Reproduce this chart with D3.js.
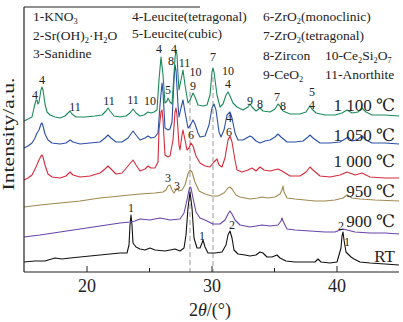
<!DOCTYPE html>
<html>
<head>
<meta charset="utf-8">
<script src="https://cdn.jsdelivr.net/npm/d3@7"></script>
<style>
  body { margin: 0; background: #fff; }
  svg { display: block; }
</style>
</head>
<body>
<svg id="chart" width="403" height="322"></svg>
<script>
// XRD patterns, [2theta, intensity (a.u.)]
const rtData = [[15.00,10],[15.88,11],[16.68,11],[17.48,14],[18.04,13],[18.68,14],[19.48,15],[20.28,16],[21.08,17],[21.88,18],[22.68,19],[23.24,19],[23.40,27],[23.48,47],[23.56,57],[23.64,47],[23.72,29],[23.96,25],[24.28,23],[24.68,22],[25.08,24],[25.48,22],[26.28,21],[27.08,23],[27.48,21],[27.80,24],[27.96,37],[28.12,64],[28.28,80],[28.44,64],[28.60,34],[28.84,24],[29.08,24],[29.24,29],[29.32,32],[29.48,25],[29.72,19],[30.28,19],[30.84,20],[31.16,27],[31.32,37],[31.48,41],[31.64,34],[31.80,22],[32.12,18],[32.68,17],[33.08,16],[33.56,17],[33.88,20],[34.12,19],[34.44,15],[34.84,15],[35.24,17],[35.48,14],[35.96,11],[36.68,10],[37.48,10],[38.28,10],[38.52,13],[38.76,10],[39.48,9],[40.04,10],[40.36,24],[40.44,36],[40.52,40],[40.60,32],[40.76,20],[40.92,18],[41.16,15],[41.40,13],[41.88,10],[42.68,9],[43.88,8],[45.00,7]];
const t900Data = [[15.00,35],[16.28,37],[17.88,40],[19.48,43],[21.08,46],[22.68,49],[23.48,50],[23.88,51],[24.28,53],[25.08,52],[25.88,54],[26.68,52],[27.48,53],[27.80,59],[28.04,72],[28.20,82],[28.28,85],[28.36,84],[28.52,74],[28.76,60],[29.08,54],[29.48,52],[30.12,48],[30.68,48],[31.08,52],[31.32,58],[31.48,61],[31.64,58],[31.88,52],[32.28,47],[33.08,45],[33.56,46],[34.04,47],[34.68,46],[35.32,47],[35.56,51],[35.64,54],[35.72,51],[36.04,43],[36.68,42],[37.88,41],[39.08,40],[39.88,40],[40.28,42],[40.52,43],[40.84,42],[41.48,40],[42.68,39],[43.88,39],[45.00,38]];
const t950Data = [[15.00,65],[16.28,67],[17.88,69],[19.48,71],[21.08,74],[22.68,76],[24.28,78],[25.48,79],[26.12,80],[26.36,82],[26.52,86],[26.68,87],[26.84,82],[27.00,79],[27.16,82],[27.24,84],[27.40,81],[27.64,82],[27.88,87],[28.12,98],[28.28,102],[28.44,100],[28.68,90],[29.00,81],[29.48,78],[30.04,76],[30.52,76],[31.00,79],[31.32,84],[31.48,85],[31.64,83],[31.96,77],[32.28,75],[33.08,73],[33.72,74],[34.04,75],[34.52,74],[35.08,75],[35.48,78],[35.64,82],[35.72,86],[35.80,80],[36.04,74],[36.68,73],[37.48,72],[38.28,71],[39.08,71],[39.88,72],[40.52,74],[40.84,77],[41.24,74],[41.88,73],[43.08,72],[45.00,71]];
const t1000Data = [[15.00,92],[15.32,94],[15.64,97],[15.96,105],[16.20,112],[16.36,116],[16.44,117],[16.52,115],[16.68,107],[16.92,98],[17.24,95],[17.88,94],[18.36,96],[18.68,100],[18.92,97],[19.48,95],[20.28,96],[21.08,99],[21.48,103],[21.72,106],[21.96,103],[22.36,98],[22.84,99],[23.32,106],[23.72,112],[23.96,107],[24.28,101],[24.68,103],[24.92,106],[25.16,104],[25.48,104],[25.72,110],[25.80,142],[25.96,160],[26.04,162],[26.12,152],[26.28,117],[26.52,115],[26.68,116],[26.92,132],[27.08,160],[27.16,164],[27.24,157],[27.40,127],[27.48,122],[27.64,137],[27.72,142],[27.88,132],[28.04,122],[28.20,124],[28.36,129],[28.52,126],[28.76,116],[29.08,109],[29.48,106],[29.88,105],[30.20,110],[30.44,113],[30.60,107],[30.84,105],[31.08,114],[31.32,132],[31.48,136],[31.64,130],[31.88,112],[32.04,102],[32.44,100],[32.92,102],[33.24,104],[33.56,101],[33.88,105],[34.20,102],[34.68,101],[35.32,103],[35.64,101],[36.28,96],[37.08,96],[37.56,100],[37.88,105],[38.12,102],[38.68,96],[39.48,95],[40.28,97],[40.84,100],[41.48,97],[42.04,99],[42.68,95],[43.88,94],[45.00,94]];
const t1050Data = [[15.00,124],[15.32,126],[15.64,129],[15.88,134],[16.04,139],[16.20,142],[16.36,148],[16.44,149],[16.52,146],[16.68,138],[16.92,132],[17.24,129],[17.88,128],[18.36,129],[18.68,132],[18.92,130],[19.48,128],[20.28,129],[21.08,130],[21.48,134],[21.72,137],[21.96,134],[22.36,130],[22.84,130],[23.32,134],[23.72,141],[23.96,137],[24.28,132],[24.68,134],[24.92,136],[25.16,134],[25.48,135],[25.72,139],[25.88,167],[26.04,189],[26.12,180],[26.28,144],[26.52,142],[26.68,143],[26.84,150],[27.00,192],[27.08,207],[27.16,202],[27.32,167],[27.40,155],[27.56,164],[27.72,172],[27.88,160],[28.12,144],[28.28,146],[28.52,152],[28.68,148],[28.92,139],[29.08,135],[29.48,136],[29.80,147],[30.04,164],[30.20,168],[30.36,162],[30.60,140],[30.76,135],[31.00,142],[31.24,157],[31.48,160],[31.64,154],[31.88,139],[32.12,132],[32.52,132],[33.08,136],[33.24,135],[33.56,131],[33.88,129],[34.28,131],[34.68,132],[35.08,135],[35.32,138],[35.56,135],[36.04,130],[36.68,130],[37.32,131],[37.72,135],[37.88,137],[38.12,134],[38.68,129],[39.48,129],[40.28,130],[40.68,133],[40.92,135],[41.24,131],[41.64,132],[42.04,136],[42.36,132],[42.84,129],[43.88,129],[45.00,128]];
const t1100Data = [[15.00,151],[15.32,153],[15.64,155],[15.80,164],[15.96,172],[16.04,172],[16.12,168],[16.20,170],[16.36,182],[16.44,185],[16.52,182],[16.68,168],[16.84,160],[17.08,157],[17.48,155],[17.88,154],[18.28,156],[18.52,159],[18.68,161],[18.84,158],[19.16,155],[19.88,155],[20.68,156],[21.24,157],[21.56,161],[21.72,164],[21.88,161],[22.20,156],[22.68,155],[23.16,156],[23.48,159],[23.72,163],[23.96,159],[24.28,156],[24.60,157],[24.92,160],[25.16,159],[25.40,160],[25.64,162],[25.80,192],[25.96,215],[26.12,197],[26.28,169],[26.44,171],[26.52,174],[26.68,170],[26.84,168],[26.92,182],[27.08,214],[27.16,222],[27.24,217],[27.32,197],[27.40,182],[27.56,192],[27.72,202],[27.88,187],[28.12,169],[28.28,172],[28.52,179],[28.68,175],[28.92,167],[29.32,166],[29.64,167],[29.88,177],[30.04,200],[30.12,204],[30.20,200],[30.44,177],[30.68,165],[30.92,168],[31.16,177],[31.32,180],[31.48,176],[31.72,169],[32.04,165],[32.52,162],[32.92,165],[33.08,168],[33.24,165],[33.56,161],[33.88,164],[34.12,161],[34.68,160],[35.08,163],[35.32,168],[35.48,166],[35.72,161],[36.28,158],[37.08,158],[37.56,160],[37.88,166],[38.04,163],[38.36,159],[39.08,157],[39.88,157],[40.44,159],[40.84,162],[41.24,159],[41.72,160],[42.04,164],[42.36,160],[42.84,157],[43.88,157],[45.00,156]];

const seriesNames = ["RT", "900 ℃", "950 ℃", "1 000 ℃", "1 050 ℃", "1 100 ℃"];
const seriesData = [rtData, t900Data, t950Data, t1000Data, t1050Data, t1100Data];
const seriesColors = ["#111111", "#6a44a8", "#a08850", "#d62a3b", "#2b4ea6", "#1b8a5a"];
// intensity where each temperature label sits
const seriesLabelLevel = [10, 45, 75, 105, 131, 161];

const xTicks = [20, 30, 40];
const xMinorTicks = [25, 35];
const refLines = [28.28, 30.12];

// peak labels: [text, 2theta, intensity]
const peakLabels = [
  ["4", 15.88, 177], ["4", 16.44, 192], ["11", 19.08, 165], ["11", 21.80, 171],
  ["11", 23.72, 172], ["10", 25.08, 171], ["4", 25.80, 223], ["5", 26.52, 182],
  ["8", 26.76, 211], ["4", 27.00, 223], ["11", 27.84, 209], ["10", 28.72, 200],
  ["9", 28.52, 186], ["7", 30.12, 215], ["10", 31.32, 201], ["4", 31.32, 188],
  ["9", 33.08, 171], ["8", 33.88, 168], ["7", 35.24, 175], ["8", 35.72, 166],
  ["5", 38.04, 180], ["4", 38.04, 167], ["4", 31.40, 154], ["6", 31.40, 140],
  ["6", 28.36, 137], ["3", 26.52, 94], ["3", 27.24, 86], ["1", 23.56, 64],
  ["1", 29.24, 36], ["2", 31.64, 47], ["2", 40.36, 46], ["1", 40.84, 30]
];

// phase legend, "_" marks a subscript
const phaseNames = [
  ["1-KNO", "_3"], ["2-Sr(OH)", "_2", "·H", "_2", "O"], ["3-Sanidine"],
  ["4-Leucite(tetragonal)"], ["5-Leucite(cubic)"],
  ["6-ZrO", "_2", "(monoclinic)"], ["7-ZrO", "_2", "(tetragonal)"], ["8-Zircon"],
  ["9-CeO", "_2"], ["10-Ce", "_2", "Si", "_2", "O", "_7"], ["11-Anorthite"]
];
const phasePos = [[33,21],[33,40],[33,58],[132,21],[132,38],[263,21],[263,40],[263,60],[263,79],[325,60],[325,79]];

const serif = '"Liberation Serif", "Times New Roman", Times, "DejaVu Serif", serif';
const ink = "#222";

const svg = d3.select("#chart")
  .attr("font-family", serif)
  .style("font-family", serif);
const plotLeft = 24, plotRight = 399, plotTop = 7, plotBottom = 272;

const x = d3.scaleLinear().domain([15, 45]).range([plotLeft, plotRight]);
const y = d3.scaleLinear().domain([0, 265]).range([plotBottom, plotTop]);

function addRich(g, px, py, parts, size) {
  const t = g.append("text").attr("x", px).attr("y", py)
    .attr("font-size", size).attr("fill", ink).style("font-family", serif);
  let shifted = false;
  parts.forEach((p) => {
    if (p.startsWith("_")) {
      t.append("tspan").attr("font-size", size * 0.62).attr("dy", shifted ? 0 : 3).text(p.slice(1));
      shifted = true;
    } else {
      t.append("tspan").attr("dy", shifted ? -3 : 0).text(p);
      shifted = false;
    }
  });
  return t;
}

// reference dashed lines
svg.selectAll(".ref")
  .data(refLines)
  .join("line")
  .attr("x1", (d) => x(d)).attr("x2", (d) => x(d))
  .attr("y1", (d, i) => (i === 0 ? y(180) : y(195)))
  .attr("y2", plotBottom)
  .attr("stroke", "#999")
  .attr("stroke-width", 1)
  .attr("stroke-dasharray", "5,3");

const line = d3.line().x((d) => x(d[0])).y((d) => y(d[1]));

svg.selectAll(".pattern")
  .data(seriesData)
  .join("path")
  .attr("class", "pattern")
  .attr("d", line)
  .attr("fill", "none")
  .attr("stroke", (d, i) => seriesColors[i])
  .attr("stroke-width", 1.1)
  .attr("stroke-linejoin", "round");

// frame
svg.append("line").attr("x1", plotLeft).attr("x2", plotLeft).attr("y1", plotTop).attr("y2", plotBottom)
  .attr("stroke", ink).attr("stroke-width", 1.2);
svg.append("line").attr("x1", plotLeft).attr("x2", 200).attr("y1", plotTop).attr("y2", plotTop)
  .attr("stroke", ink).attr("stroke-width", 1.2);
svg.append("line").attr("x1", plotLeft).attr("x2", plotRight).attr("y1", plotBottom).attr("y2", plotBottom)
  .attr("stroke", ink).attr("stroke-width", 1.2);

const xAxis = svg.append("g")
  .attr("transform", `translate(0,${plotBottom})`)
  .call(d3.axisBottom(x).tickValues(xTicks).tickSizeInner(-6).tickSizeOuter(0).tickPadding(7));
xAxis.attr("font-family", null);
xAxis.select(".domain").remove();
xAxis.selectAll("line").attr("stroke", ink);
xAxis.selectAll("text")
  .attr("font-size", 18)
  .attr("fill", ink)
  .style("font-family", serif);

const xMinor = svg.append("g")
  .attr("transform", `translate(0,${plotBottom})`)
  .call(d3.axisBottom(x).tickValues(xMinorTicks).tickSizeInner(-4).tickSizeOuter(0).tickFormat(""));
xMinor.select(".domain").remove();
xMinor.selectAll("line").attr("stroke", ink);

// axis titles
const xTitle = svg.append("text")
  .attr("x", 210).attr("y", 316)
  .attr("text-anchor", "middle")
  .attr("font-size", 18)
  .attr("fill", ink)
  .style("font-family", serif);
xTitle.append("tspan").text("2");
xTitle.append("tspan").attr("font-style", "italic").text("θ");
xTitle.append("tspan").text("/(°)");

svg.append("text")
  .attr("transform", "translate(14,134) rotate(-90)")
  .attr("text-anchor", "middle")
  .attr("font-size", 16)
  .attr("fill", ink)
  .style("font-family", serif)
  .attr("textLength", 113)
  .attr("lengthAdjust", "spacingAndGlyphs")
  .text("Intensity/a.u.");

// temperature labels
svg.selectAll(".temp")
  .data(seriesNames)
  .join("text")
  .attr("class", "temp")
  .attr("x", 395)
  .attr("y", (d, i) => y(seriesLabelLevel[i]))
  .attr("text-anchor", "end")
  .attr("font-size", 17)
  .attr("fill", ink)
  .style("font-family", serif)
  .text((d) => d);

// peak labels
svg.selectAll(".peak")
  .data(peakLabels)
  .join("text")
  .attr("class", "peak")
  .attr("x", (d) => x(d[1]))
  .attr("y", (d) => y(d[2]))
  .attr("text-anchor", "middle")
  .attr("dominant-baseline", "central")
  .attr("font-size", 12)
  .attr("fill", ink)
  .style("font-family", serif)
  .text((d) => d[0]);

// phase legend
phaseNames.forEach((parts, i) => {
  addRich(svg, phasePos[i][0], phasePos[i][1], parts, 13.5);
});
</script>
</body>
</html>
